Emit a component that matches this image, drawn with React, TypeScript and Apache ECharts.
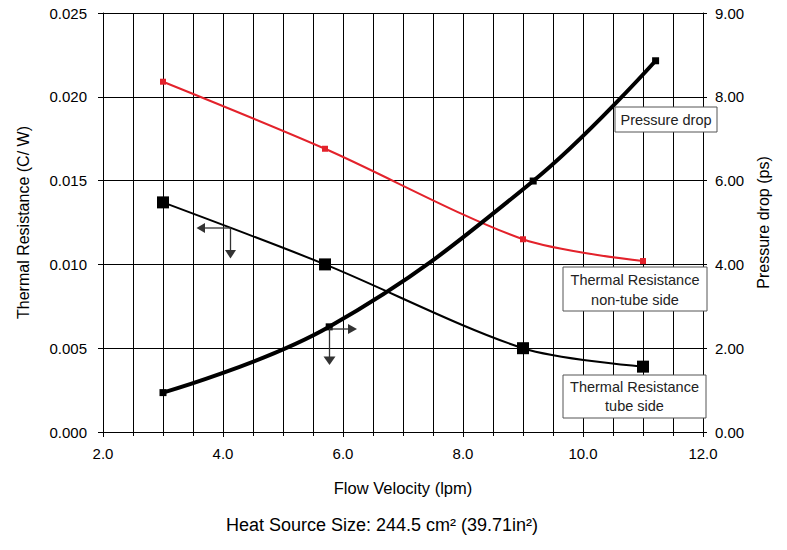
import React, { useEffect, useRef } from "react";
import * as echarts from "echarts";

const FONT = '"Liberation Sans", Arial, sans-serif';

// Flow velocity (lpm) and values
const nonTubeSide: [number, number][] = [
  [3.0, 0.0209],
  [5.7, 0.0169],
  [9.0, 0.0115],
  [11.0, 0.0102],
];
const tubeSide: [number, number][] = [
  [3.0, 0.0137],
  [5.7, 0.01],
  [9.0, 0.005],
  [11.0, 0.0039],
];
const pressureDrop: [number, number][] = [
  [3.0, 0.94],
  [5.77, 2.51],
  [9.17, 5.99],
  [11.21, 8.86],
];
const rightTickLabels = ["0.00", "2.00", "4.00", "6.00", "8.00", "9.00"];

const xAxisName = "Flow Velocity (lpm)";
const leftAxisName = "Thermal Resistance (C/ W)";
const rightAxisName = "Pressure drop (ps)";
const caption = "Heat Source Size: 244.5 cm\u00B2 (39.71in\u00B2)";

const txt = (text: string, x: number, y: number, size = 14.5) => ({
  type: "text",
  x,
  y,
  z: 100,
  style: {
    text,
    fill: "#222",
    font: `${size}px ${FONT}`,
    textAlign: "center",
    textVerticalAlign: "middle",
    align: "center",
    verticalAlign: "middle",
  },
});

const box = (x: number, y: number, w: number, h: number) => ({
  type: "rect",
  z: 99,
  shape: { x, y, width: w, height: h },
  style: { fill: "#fff", stroke: "#555", lineWidth: 1 },
});

const arrowColor = "#333";
const seg = (x1: number, y1: number, x2: number, y2: number) => ({
  type: "line",
  z: 98,
  shape: { x1, y1, x2, y2 },
  style: { stroke: arrowColor, lineWidth: 1.3 },
});
const head = (pts: number[][]) => ({
  type: "polygon",
  z: 98,
  shape: { points: pts },
  style: { fill: arrowColor },
});

export default function App() {
  const ref = useRef<HTMLDivElement>(null);
  useEffect(() => {
    if (!ref.current) return;
    const chart = echarts.init(ref.current, null, { renderer: "svg" });
    chart.setOption({
      animation: false,
      backgroundColor: "#fff",
      textStyle: { fontFamily: FONT },
      grid: { left: 103, right: 84, top: 13, bottom: 118 },
      xAxis: {
        type: "value",
        min: 2,
        max: 12,
        interval: 2,
        name: xAxisName,
        nameLocation: "middle",
        nameGap: 47,
        nameTextStyle: { fontSize: 16.5, color: "#000", fontFamily: FONT },
        axisLine: { show: true, lineStyle: { color: "#000", width: 1 } },
        axisTick: { show: true, length: 5, lineStyle: { color: "#000" } },
        minorTick: { show: true, splitNumber: 4, length: 4, lineStyle: { color: "#000" } },
        axisLabel: {
          margin: 14,
          fontSize: 15,
          color: "#000",
          fontFamily: FONT,
          formatter: (v: number) => v.toFixed(1),
        },
        splitLine: { show: true, lineStyle: { color: "#000", width: 1 } },
        minorSplitLine: { show: true, lineStyle: { color: "#000", width: 1 } },
      },
      yAxis: [
        {
          type: "value",
          min: 0,
          max: 0.025,
          interval: 0.005,
          name: leftAxisName,
          nameLocation: "middle",
          nameGap: 72,
          nameTextStyle: { fontSize: 16, color: "#000", fontFamily: FONT },
          axisLine: { show: true, lineStyle: { color: "#000", width: 1 } },
          axisTick: { show: true, length: 5, lineStyle: { color: "#000" } },
          axisLabel: {
            margin: 16,
            fontSize: 15,
            color: "#000",
            fontFamily: FONT,
            formatter: (v: number) => v.toFixed(3),
          },
          splitLine: { show: true, lineStyle: { color: "#000", width: 1 } },
        },
        {
          type: "value",
          min: 0,
          max: 10,
          interval: 2,
          position: "right",
          name: rightAxisName,
          nameLocation: "middle",
          nameGap: 51,
          nameTextStyle: { fontSize: 16, color: "#000", fontFamily: FONT },
          axisLine: { show: true, lineStyle: { color: "#000", width: 1 } },
          axisTick: { show: true, length: 4, lineStyle: { color: "#000" } },
          axisLabel: {
            margin: 12,
            fontSize: 15,
            color: "#000",
            fontFamily: FONT,
            formatter: (_v: number, i: number) => rightTickLabels[i],
          },
          splitLine: { show: false },
        },
      ],
      series: [
        {
          name: "Thermal Resistance non-tube side",
          type: "line",
          yAxisIndex: 0,
          data: nonTubeSide,
          smooth: 0.3,
          symbol: "rect",
          symbolSize: 6,
          showSymbol: true,
          lineStyle: { color: "#e3222b", width: 2 },
          itemStyle: { color: "#e3222b" },
          z: 3,
        },
        {
          name: "Thermal Resistance tube side",
          type: "line",
          yAxisIndex: 0,
          data: tubeSide,
          smooth: 0.3,
          symbol: "rect",
          symbolSize: 12,
          lineStyle: { color: "#000", width: 2 },
          itemStyle: { color: "#000" },
          z: 4,
        },
        {
          name: "Pressure drop",
          type: "line",
          yAxisIndex: 1,
          data: pressureDrop,
          smooth: 0.4,
          symbol: "rect",
          symbolSize: 7,
          lineStyle: { color: "#000", width: 4 },
          itemStyle: { color: "#000" },
          z: 5,
        },
      ],
      graphic: [
        box(615, 107, 102, 25),
        txt("Pressure drop", 666, 120),
        box(563, 267, 144, 44),
        txt("Thermal Resistance", 635, 280),
        txt("non-tube side", 635, 300),
        box(563, 375, 143, 43),
        txt("Thermal Resistance", 634.5, 387),
        txt("tube side", 634.5, 406),
        // arrow pointing to left axis
        seg(230.5, 228, 202, 228),
        head([[196.5, 228], [205, 223], [205, 233]]),
        seg(230.5, 228, 230.5, 252),
        head([[230.5, 258.5], [225, 250], [236, 250]]),
        // arrow pointing to right axis
        seg(329.5, 329, 351, 329),
        head([[357, 329], [348, 324], [348, 334]]),
        seg(329.5, 329, 329.5, 358),
        head([[329.5, 365], [323.5, 356.5], [335.5, 356.5]]),
        {
          type: "text",
          x: 382,
          y: 525,
          style: {
            text: caption,
            fill: "#000",
            font: `18px ${FONT}`,
            textAlign: "center",
            textVerticalAlign: "middle",
            align: "center",
            verticalAlign: "middle",
          },
        },
      ],
    });
    return () => chart.dispose();
  }, []);
  return (
    <div
      ref={ref}
      style={{ position: "fixed", left: 0, top: 0, width: 787, height: 550, background: "#fff" }}
    />
  );
}
